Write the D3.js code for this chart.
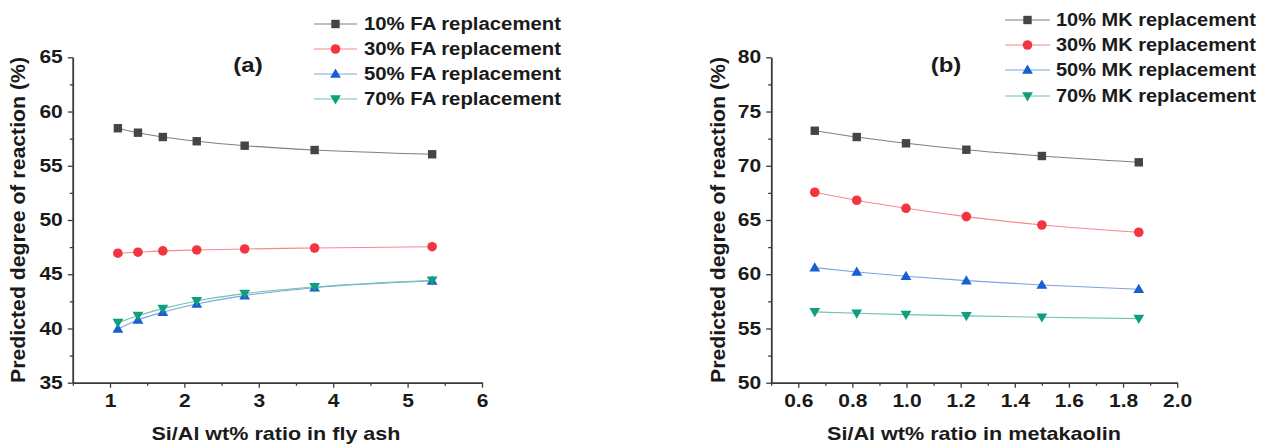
<!DOCTYPE html>
<html>
<head>
<meta charset="utf-8">
<script src="https://cdn.jsdelivr.net/npm/d3@7"></script>
<style>
  html, body { margin: 0; padding: 0; background: #fff; }
  svg text { font-family: "Liberation Sans", Arial, sans-serif; font-weight: bold; fill: #1a1a1a; }
</style>
</head>
<body>
<svg id="chart" width="1263" height="445"></svg>
<script>
// Si/Al ratios of the precursors
const faRatio = [1.106, 1.376, 1.71, 2.166, 2.81, 3.75, 5.33];
const mkRatio = [0.661, 0.816, 0.998, 1.221, 1.50, 1.858];

// Predicted degree of reaction (%) — fly ash blends
const fa10 = [58.46, 58.05, 57.65, 57.26, 56.85, 56.45, 56.06];
const fa30 = [46.94, 47.03, 47.15, 47.24, 47.33, 47.42, 47.54];
const fa50 = [39.96, 40.79, 41.50, 42.26, 43.03, 43.76, 44.38];
const fa70 = [40.54, 41.18, 41.83, 42.54, 43.21, 43.83, 44.45];

// Predicted degree of reaction (%) — metakaolin blends
const mk10 = [73.23, 72.65, 72.07, 71.48, 70.90, 70.32];
const mk30 = [67.56, 66.82, 66.08, 65.31, 64.54, 63.87];
const mk50 = [60.61, 60.21, 59.82, 59.41, 59.01, 58.62];
const mk70 = [56.53, 56.40, 56.28, 56.16, 56.04, 55.91];

const faLabels = ["10% FA replacement", "30% FA replacement", "50% FA replacement", "70% FA replacement"];
const mkLabels = ["10% MK replacement", "30% MK replacement", "50% MK replacement", "70% MK replacement"];

const faXTicks = [1, 2, 3, 4, 5, 6];
const faYTicks = [35, 40, 45, 50, 55, 60, 65];
const mkXTicks = [0.6, 0.8, 1.0, 1.2, 1.4, 1.6, 1.8, 2.0];
const mkYTicks = [50, 55, 60, 65, 70, 75, 80];

const symbolColors = ["#454545", "#f2353f", "#1a5fd2", "#0f9f7e"];
const lineColors = ["#808080", "#f48a8f", "#7da3e2", "#6cc4ad"];
const symbols = ["square", "circle", "up", "down"];

// horizontal widening applied to all text
const WIDEN = 1.2;

const svg = d3.select("#chart");

function widen(sel, f) {
  sel.each(function () {
    const w = this.getComputedTextLength();
    if (w > 0) d3.select(this).attr("textLength", w * f).attr("lengthAdjust", "spacingAndGlyphs");
  });
}

function marker(g, type, x, y, color) {
  if (type === "square") {
    g.append("rect").attr("x", x - 4.2).attr("y", y - 4.2).attr("width", 8.4).attr("height", 8.4).attr("fill", color);
  } else if (type === "circle") {
    g.append("circle").attr("cx", x).attr("cy", y).attr("r", 4.8).attr("fill", color);
  } else if (type === "up") {
    g.append("path").attr("d", `M${x},${y - 5.4}L${x + 5.4},${y + 3.8}L${x - 5.4},${y + 3.8}Z`).attr("fill", color);
  } else {
    g.append("path").attr("d", `M${x},${y + 5.4}L${x + 5.4},${y - 3.8}L${x - 5.4},${y - 3.8}Z`).attr("fill", color);
  }
}

function panel(cfg) {
  const g = svg.append("g");
  const x = d3.scaleLinear().domain(cfg.xDomain).range(cfg.xRange);
  const y = d3.scaleLinear().domain(cfg.yDomain).range(cfg.yRange);
  const axisColor = "#3a3a3a";

  // minor ticks
  const xMinor = d3.range(cfg.xDomain[0], cfg.xDomain[1] + 1e-9, cfg.xMinorStep).filter(v => !cfg.xTicks.some(t => Math.abs(t - v) < 1e-6));
  const yMinor = d3.range(cfg.yDomain[0], cfg.yDomain[1] + 1e-9, cfg.yMinorStep).filter(v => !cfg.yTicks.some(t => Math.abs(t - v) < 1e-6));

  const xAxis = g.append("g").attr("transform", `translate(0,${cfg.yRange[0]})`)
    .call(d3.axisBottom(x).tickValues(cfg.xTicks).tickSize(5).tickPadding(7).tickSizeOuter(0)
      .tickFormat(cfg.xFormat));
  const xAxisMinor = g.append("g").attr("transform", `translate(0,${cfg.yRange[0]})`)
    .call(d3.axisBottom(x).tickValues(xMinor).tickSize(3).tickFormat("").tickSizeOuter(0));
  const yAxis = g.append("g").attr("transform", `translate(${cfg.xRange[0]},0)`)
    .call(d3.axisLeft(y).tickValues(cfg.yTicks).tickSize(5).tickPadding(5).tickSizeOuter(0));
  const yAxisMinor = g.append("g").attr("transform", `translate(${cfg.xRange[0]},0)`)
    .call(d3.axisLeft(y).tickValues(yMinor).tickSize(3).tickFormat("").tickSizeOuter(0));

  [xAxis, xAxisMinor, yAxis, yAxisMinor].forEach(a => {
    a.selectAll("path.domain").attr("stroke", axisColor).attr("stroke-width", 1.5);
    a.selectAll(".tick line").attr("stroke", axisColor).attr("stroke-width", 1.3);
    a.selectAll(".tick text").attr("font-size", 17.5).attr("font-family", "Liberation Sans, Arial, sans-serif")
      .attr("font-weight", "bold").attr("fill", "#1a1a1a");
  });
  widen(xAxis.selectAll(".tick text"), WIDEN);
  widen(yAxis.selectAll(".tick text"), WIDEN);

  // series lines and symbols
  const line = d3.line().x(d => x(d[0])).y(d => y(d[1])).curve(d3.curveMonotoneX);
  cfg.series.forEach((vals, i) => {
    const pts = cfg.xs.map((v, k) => [v, vals[k]]);
    g.append("path").attr("d", line(pts)).attr("fill", "none")
      .attr("stroke", lineColors[i]).attr("stroke-width", 1.1);
  });
  cfg.series.forEach((vals, i) => {
    const sg = g.append("g");
    cfg.xs.forEach((v, k) => marker(sg, symbols[i], x(v), y(vals[k]), symbolColors[i]));
  });

  // axis titles
  g.append("text").attr("x", cfg.xTitlePos[0]).attr("y", cfg.xTitlePos[1])
    .attr("text-anchor", "middle").attr("font-size", 19)
    .attr("textLength", cfg.xTitleLen).attr("lengthAdjust", "spacingAndGlyphs")
    .text(cfg.xTitle);
  g.append("text").attr("transform", `translate(${cfg.yTitlePos[0]},${cfg.yTitlePos[1]}) rotate(-90)`)
    .attr("text-anchor", "middle").attr("font-size", 20)
    .attr("textLength", 326).attr("lengthAdjust", "spacingAndGlyphs")
    .text("Predicted degree of reaction (%)");

  // panel tag
  const tag = g.append("text").attr("x", cfg.tagPos[0]).attr("y", cfg.tagPos[1])
    .attr("text-anchor", "middle").attr("font-size", 20).text(cfg.tag);
  widen(tag, WIDEN);

  // legend
  const lg = g.append("g");
  cfg.labels.forEach((lab, i) => {
    const ly = cfg.legendY[i];
    lg.append("line").attr("x1", cfg.legendX[0]).attr("x2", cfg.legendX[1]).attr("y1", ly).attr("y2", ly)
      .attr("stroke", lineColors[i]).attr("stroke-width", 1.1);
    marker(lg, symbols[i], (cfg.legendX[0] + cfg.legendX[1]) / 2, ly, symbolColors[i]);
    lg.append("text").attr("x", cfg.legendText[0]).attr("y", ly).attr("dy", "0.36em")
      .attr("font-size", 18).attr("textLength", cfg.legendText[1]).attr("lengthAdjust", "spacingAndGlyphs").text(lab);
  });
}

panel({
  xDomain: [0.5, 6], xRange: [72.8, 482], xTicks: faXTicks, xMinorStep: 0.5, xFormat: d3.format("d"),
  yDomain: [35, 65], yRange: [382.7, 57.3], yTicks: faYTicks, yMinorStep: 2.5,
  xs: faRatio, series: [fa10, fa30, fa50, fa70], labels: faLabels,
  xTitle: "Si/Al wt% ratio in fly ash", xTitlePos: [276, 440], xTitleLen: 249,
  yTitlePos: [25, 220], tag: "(a)", tagPos: [248, 72],
  legendX: [314, 357], legendText: [364, 197], legendY: [24, 49, 74, 99]
});

panel({
  xDomain: [0.5, 2.0], xRange: [771.2, 1177.2], xTicks: mkXTicks, xMinorStep: 0.1, xFormat: d3.format(".1f"),
  yDomain: [50, 80], yRange: [382.7, 57.3], yTicks: mkYTicks, yMinorStep: 2.5,
  xs: mkRatio, series: [mk10, mk30, mk50, mk70], labels: mkLabels,
  xTitle: "Si/Al wt% ratio in metakaolin", xTitlePos: [974, 440], xTitleLen: 294,
  yTitlePos: [725, 220], tag: "(b)", tagPos: [946, 72],
  legendX: [1005, 1050], legendText: [1056, 200], legendY: [20, 45, 70, 96]
});
</script>
</body>
</html>
